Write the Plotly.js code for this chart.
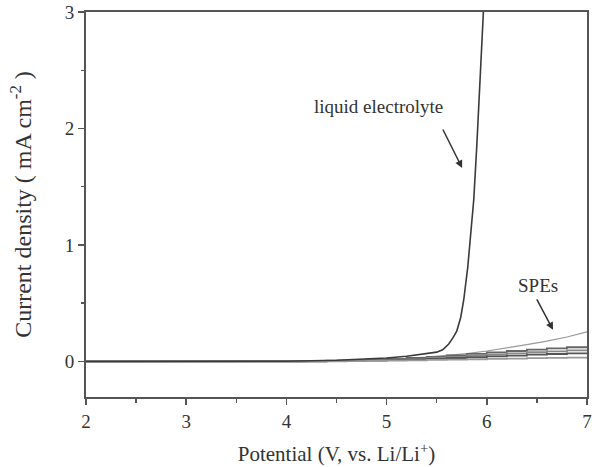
<!DOCTYPE html>
<html>
<head>
<meta charset="utf-8">
<script src="https://cdn.plot.ly/plotly-3.0.1.min.js"></script>
<style>html,body{margin:0;padding:0;background:#fff;}#chart{width:592px;height:467px;}</style>
</head>
<body>
<div id="chart"></div>
<script>
// Liquid electrolyte LSV curve
const liquidX = [2.0, 4.0, 4.5, 5.0, 5.2, 5.4, 5.5, 5.56, 5.62, 5.66, 5.70, 5.74, 5.77, 5.81, 5.84, 5.87, 5.90, 5.92, 5.94, 5.966];
const liquidY = [0, 0.002, 0.01, 0.03, 0.045, 0.065, 0.08, 0.10, 0.15, 0.2, 0.26, 0.38, 0.53, 0.81, 1.08, 1.39, 1.85, 2.24, 2.6, 3.0];

// SPE curves
const speX = [2.0, 4.0, 4.2, 4.4, 4.6, 4.8, 5.0, 5.2, 5.4, 5.6, 5.8, 6.0, 6.2, 6.4, 6.6, 6.8, 7.0];
const spe1 = [0, 0, 0.002, 0.005, 0.008, 0.012, 0.018, 0.026, 0.037, 0.05, 0.068, 0.09, 0.115, 0.145, 0.175, 0.21, 0.255];
const spe2 = [0, 0, 0.003, 0.006, 0.01, 0.015, 0.022, 0.03, 0.04, 0.052, 0.065, 0.078, 0.09, 0.102, 0.113, 0.122, 0.13];
const spe3 = [0, 0, 0.002, 0.004, 0.007, 0.011, 0.016, 0.023, 0.031, 0.04, 0.05, 0.06, 0.07, 0.079, 0.087, 0.095, 0.10];
const spe4 = [0, 0, 0.001, 0.003, 0.005, 0.008, 0.012, 0.017, 0.023, 0.03, 0.037, 0.044, 0.051, 0.058, 0.064, 0.07, 0.075];
const spe5 = [0, 0, 0.001, 0.002, 0.003, 0.005, 0.007, 0.01, 0.013, 0.016, 0.019, 0.022, 0.025, 0.028, 0.031, 0.033, 0.035];

const xTickVals = [2, 3, 4, 5, 6, 7];
const yTickVals = [0, 1, 2, 3];
const labelLiquid = 'liquid electrolyte';
const labelSPE = 'SPEs';

const serif = 'Liberation Serif, Times New Roman, serif';
const traces = [
  {x: speX, y: spe1, mode: 'lines', line: {color: '#999999', width: 1.2}},
  {x: speX, y: spe2, mode: 'lines', line: {color: '#666666', width: 1.8, shape: 'hv'}},
  {x: speX, y: spe3, mode: 'lines', line: {color: '#888888', width: 1.8, shape: 'hv'}},
  {x: speX, y: spe4, mode: 'lines', line: {color: '#555555', width: 1.8, shape: 'hv'}},
  {x: speX, y: spe5, mode: 'lines', line: {color: '#999999', width: 1.8, shape: 'hv'}},
  {x: liquidX, y: liquidY, mode: 'lines', line: {color: '#3a3a3a', width: 1.6}}
];

const axisCommon = {
  showline: true, linecolor: '#555', linewidth: 2, mirror: true,
  showgrid: false, zeroline: false,
  ticks: 'outside', ticklen: 6, tickwidth: 1.5, tickcolor: '#555',
  tickfont: {family: serif, size: 19, color: '#333'}
};

const layout = {
  width: 592, height: 467,
  margin: {l: 85.5, r: 5, t: 12, b: 70},
  paper_bgcolor: '#fff', plot_bgcolor: '#fff',
  showlegend: false,
  font: {family: serif, color: '#333'},
  xaxis: Object.assign({}, axisCommon, {
    range: [2, 7], tickvals: xTickVals, ticktext: xTickVals.map(String),
    minor: {dtick: 0.5, ticks: 'outside', ticklen: 4, tickcolor: '#555'},
    title: {text: 'Potential (V, vs. Li/Li<sup>+</sup>)', font: {family: serif, size: 21, color: '#333'}, standoff: 16}
  }),
  yaxis: Object.assign({}, axisCommon, {
    range: [-0.305, 3], tickvals: yTickVals, ticktext: yTickVals.map(String),
    minor: {dtick: 0.5, ticks: 'outside', ticklen: 3, tickcolor: '#555'},
    title: {text: 'Current density ( mA cm<sup>-2</sup> )', font: {family: serif, size: 24, color: '#333'}, standoff: 26}
  }),
  annotations: [
    {x: 4.916, y: 2.193, text: labelLiquid, showarrow: false, font: {family: serif, size: 19, color: '#333'}},
    {x: 6.511, y: 0.65, text: labelSPE, showarrow: false, font: {family: serif, size: 19, color: '#333'}},
    {x: 5.754, y: 1.661, ax: -20, ay: -40, text: '', showarrow: true, arrowhead: 2, arrowsize: 1, arrowwidth: 1.5, arrowcolor: '#333'},
    {x: 6.661, y: 0.272, ax: -17, ay: -32, text: '', showarrow: true, arrowhead: 2, arrowsize: 1, arrowwidth: 1.5, arrowcolor: '#333'}
  ]
};

Plotly.newPlot('chart', traces, layout, {displayModeBar: false, staticPlot: true});
</script>
</body>
</html>
